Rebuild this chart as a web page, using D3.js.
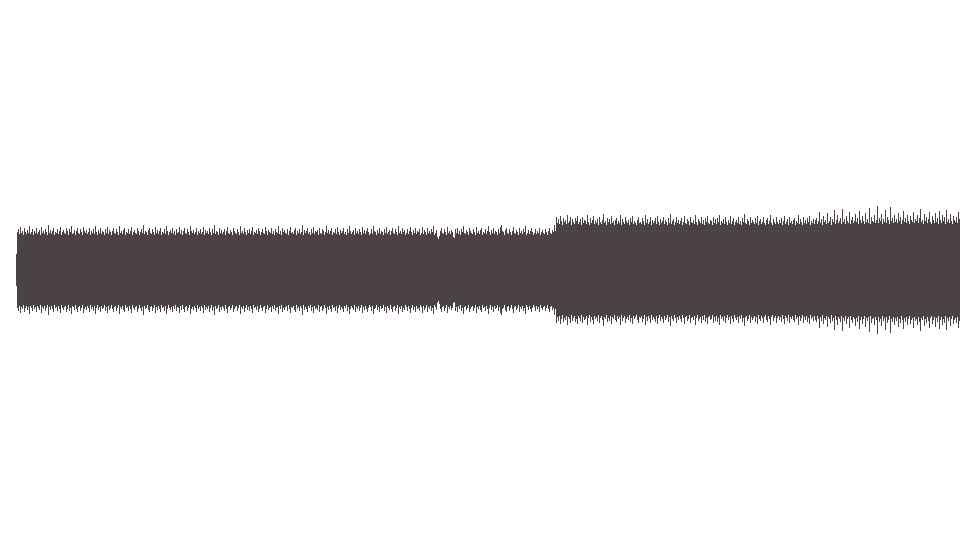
<!DOCTYPE html>
<html>
<head>
<meta charset="utf-8">
<script src="https://cdn.jsdelivr.net/npm/d3@7"></script>
<style>
  html, body { margin: 0; padding: 0; background: #ffffff; }
  svg { display: block; }
</style>
</head>
<body>
<svg id="wave-svg" width="960" height="540"></svg>
<script>
// peak amplitude per column, quiet take (first part of the clip)
const quietPeaks = [
  16,38,41,36,43,37,39,35,42,38,36,40,37,44,36,38,41,35,39,37,
  42,36,38,40,35,43,37,39,36,41,38,35,45,37,40,36,39,42,35,38,
  37,41,36,39,43,35,38,40,37,36,42,39,35,41,38,44,36,37,40,35,
  39,42,37,36,41,38,35,43,39,37,40,36,38,42,35,39,37,41,36,44,
  38,35,40,37,42,36,39,38,35,41,37,43,36,40,38,35,39,42,37,36,
  41,38,35,44,37,39,36,40,42,35,38,37,41,36,39,43,35,38,40,37,
  36,42,39,35,38,41,37,45,36,39,38,35,40,42,37,36,41,38,35,43,
  37,40,36,39,42,35,38,37,41,36,44,39,35,38,40,37,42,36,39,35,
  41,37,38,43,36,40,35,39,42,37,36,41,38,35,44,39,37,40,36,38,
  42,35,39,37,41,36,38,43,35,40,37,39,36,42,38,35,41,37,45,36,
  39,38,35,42,37,40,36,38,41,35,39,43,37,36,40,38,35,42,39,37,
  36,41,38,35,44,37,39,36,42,38,35,40,37,41,36,39,43,35,38,37,
  40,36,42,39,35,38,41,37,36,43,39,35,40,38,37,42,36,39,35,41,
  38,37,44,36,39,35,42,38,40,37,36,41,35,39,43,37,38,36,40,42,
  35,39,37,41,36,38,45,35,40,37,39,42,36,38,35,41,37,43,36,39,
  38,40,35,42,37,36,41,39,35,38,44,37,40,36,39,42,35,38,37,41,
  36,43,38,35,40,37,39,42,36,38,35,41,37,44,39,36,38,40,35,42,
  37,39,36,41,38,35,43,37,40,36,39,42,38,35,37,41,36,44,39,38,
  35,40,37,42,36,39,38,35,41,37,43,36,38,40,35,39,42,37,36,41,
  38,35,44,37,39,36,42,38,40,35,37,41,36,39,43,38,35,40,37,42,
  36,39,38,41,35,37,43,36,40,38,35,42,37,39,36,41,38,44,35,37,
  40,33,31,34,39,42,37,36,41,38,35,43,37,39,36,40,38,33,32,41,
  37,42,36,39,35,41,38,44,37,36,40,38,35,42,39,37,36,41,38,35,
  43,37,39,36,40,42,35,38,37,41,36,39,44,38,35,40,37,42,36,39,
  38,35,41,37,43,45,39,38,35,40,42,37,36,41,38,35,39,43,37,36,
  40,38,35,42,37,39,36,41,38,44,35,37,40,36,39,42,38,35,37,41,
  36,39,37,42,35,38,40,37,36,41,38,35,39,42,37,36,40,38,45,39
];

// peak amplitude per column, loud take (second part of the clip)
const loudPeaks = [
  53,47,51,46,54,49,45,52,48,50,46,55,47,49,53,45,51,48,46,52,
  49,54,46,48,51,45,53,47,50,49,46,55,48,45,52,47,50,54,46,49,
  47,51,45,53,48,46,50,56,47,49,45,52,48,51,46,54,47,49,45,50,
  52,46,49,47,55,45,51,48,46,53,49,47,50,45,52,48,54,46,49,47,
  45,50,53,47,48,46,52,49,45,55,47,51,46,48,53,45,50,47,49,52,
  46,54,48,45,51,47,49,53,46,50,48,45,52,47,56,46,49,51,45,48,
  53,47,50,46,49,52,45,48,54,47,46,51,49,45,53,48,47,50,46,55,
  48,45,51,49,47,53,46,50,45,52,48,54,47,46,50,49,45,53,47,51,
  46,52,48,55,45,49,47,51,46,53,48,45,50,47,54,46,49,52,45,48,
  50,47,53,46,49,45,52,48,56,47,46,51,49,45,53,47,50,48,46,52,
  47,54,45,49,51,46,48,53,47,45,50,52,46,49,55,47,45,51,48,46,
  53,48,46,50,47,52,45,49,54,46,48,51,45,53,47,49,46,50,52,45,
  49,47,55,46,51,48,45,53,47,50,46,52,48,54,45,49,47,51,46,50,
  52,46,49,58,47,51,45,54,48,50,46,57,47,49,53,45,51,48,60,46,
  50,55,47,49,52,46,61,48,51,46,54,49,47,58,46,50,53,47,49,56,
  48,52,46,59,50,47,54,49,46,57,48,51,47,62,46,53,49,48,55,47,
  50,64,47,52,49,56,46,51,48,60,47,53,50,46,63,49,52,47,55,48,
  51,47,57,49,53,46,50,59,48,52,47,55,49,46,54,50,48,58,47,51,
  49,55,47,52,61,48,50,46,56,49,53,47,51,58,48,46,54,50,47,57,
  48,52,46,59,50,47,55,49,53,46,60,48,51,47,56,49,46,54,50,48,
  53,47,58,51
];

const waveColor = "#4a4245";

/** Class drawing a mirrored peak waveform. */
class Waveform {

    constructor(peaks) {
        this.peaks = peaks;
    }

    draw()
    {
        let svg = d3.select("#wave-svg");

        // one column per peak, starting a little in from the left edge
        let xScale = d3
        .scaleLinear()
        .domain([0, this.peaks.length])
        .range([16, 960]);

        // amplitude is mirrored about the centre line
        let yScale = d3
        .scaleLinear()
        .domain([-70, 70])
        .range([340, 200]);

        svg.append("g")
        .attr("id", "peaks")
        .selectAll("rect")
        .data(this.peaks)
        .join("rect")
        .attr("x", (d, i) => xScale(i))
        .attr("width", xScale(1) - xScale(0))
        .attr("y", d => yScale(d))
        .attr("height", d => yScale(-d) - yScale(d))
        .attr("fill", waveColor)
        .attr("shape-rendering", "crispEdges");
    }
}

let wave = new Waveform(quietPeaks.concat(loudPeaks));
wave.draw();
</script>
</body>
</html>
